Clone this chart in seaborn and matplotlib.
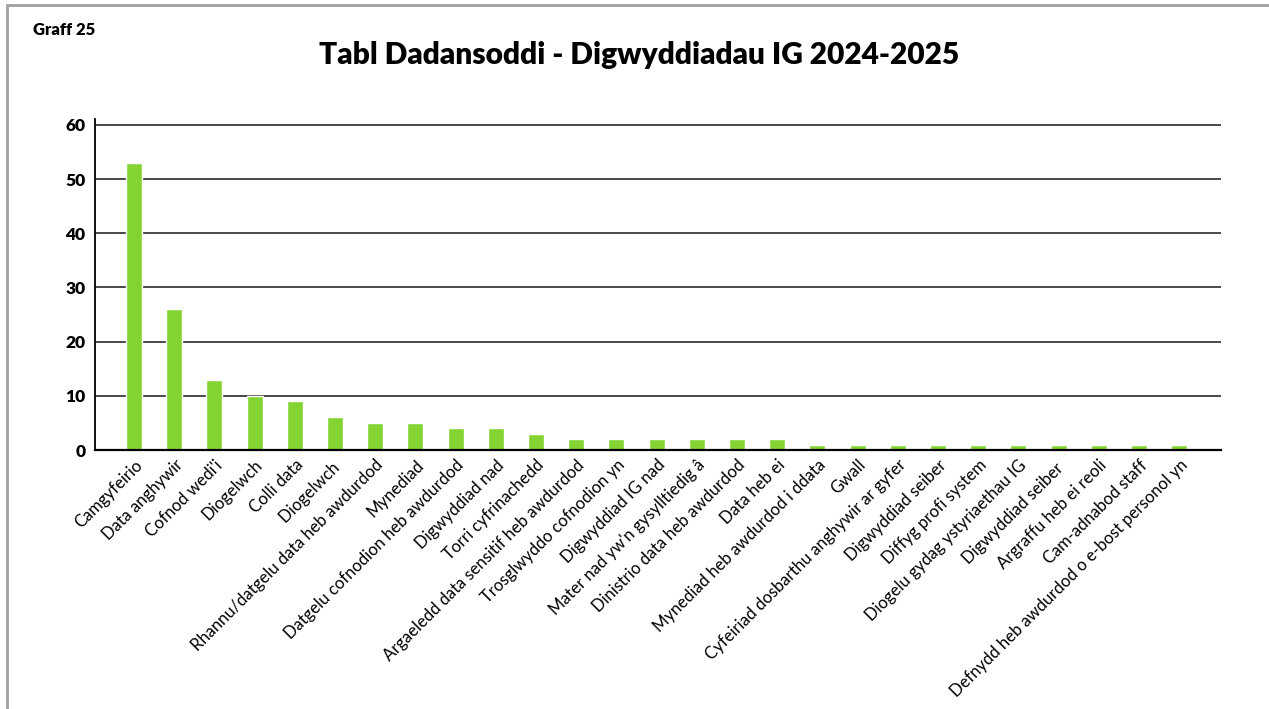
import pandas as pd
import matplotlib.pyplot as plt
import seaborn as sns
from matplotlib.lines import Line2D

# Data
categories = [
    "Camgyfeirio", "Data anghywir", "Cofnod wedi'i", "Diogelwch", "Colli data",
    "Diogelwch ", "Rhannu/datgelu data heb awdurdod", "Mynediad",
    "Datgelu cofnodion heb awdurdod", "Digwyddiad nad", "Torri cyfrinachedd",
    "Argaeledd data sensitif heb awdurdod", "Trosglwyddo cofnodion yn",
    "Digwyddiad IG nad", "Mater nad yw'n gysylltiedig â",
    "Dinistrio data heb awdurdod", "Data heb ei", "Mynediad heb awdurdod i ddata",
    "Gwall", "Cyfeiriad dosbarthu anghywir ar gyfer", "Digwyddiad seiber",
    "Diffyg profi system", "Diogelu gydag ystyriaethau IG", "Digwyddiad seiber ",
    "Argraffu heb ei reoli", "Cam-adnabod staff",
    "Defnydd heb awdurdod o e-bost personol yn",
]
counts = [53, 26, 13, 10, 9, 6, 5, 5, 4, 4, 3, 2, 2, 2, 2, 2, 2,
          1, 1, 1, 1, 1, 1, 1, 1, 1, 1]
y_ticks = [0, 10, 20, 30, 40, 50, 60]

df = pd.DataFrame({'category': categories, 'count': counts})

sns.set_style('white')
plt.rcParams['font.family'] = ['Lato', 'DejaVu Sans']
plt.rcParams['text.color'] = 'black'
plt.rcParams['xtick.color'] = 'black'
plt.rcParams['ytick.color'] = 'black'

fig = plt.figure(figsize=(12.69, 7.09), dpi=100)
ax = fig.add_axes([0.0749, 0.3653, 0.8873, 0.4669])

sns.barplot(data=df, x='category', y='count', color='#83D433',
            saturation=1, width=0.4, ax=ax, zorder=3)

# gridlines
for t in y_ticks[1:]:
    ax.axhline(t, color='#3a3a3a', linewidth=1.3, zorder=1)

ax.set_ylim(0, 61.1)
ax.set_xlim(-0.97, 27.04)
ax.set_yticks(y_ticks)
ax.set_yticklabels([str(t) for t in y_ticks], fontsize=12.5, fontweight='heavy')
ax.set_xticks(range(len(categories)))
ax.set_xticklabels(categories, rotation=45, ha='right', rotation_mode='anchor',
                   fontsize=12)
ax.tick_params(axis='both', length=0, pad=7)
ax.tick_params(axis='x', pad=5)
ax.set_xlabel('')
ax.set_ylabel('')

for side in ['top', 'right']:
    ax.spines[side].set_visible(False)
ax.spines['left'].set_color('black')
ax.spines['left'].set_linewidth(1.3)
ax.spines['bottom'].set_color('black')
ax.spines['bottom'].set_linewidth(1.6)
ax.spines['left'].set_zorder(4)
ax.spines['bottom'].set_zorder(4)

fig.text(0.504, 0.922, 'Tabl Dadansoddi - Digwyddiadau IG 2024-2025',
         ha='center', va='center', fontsize=21.5, fontweight='heavy')
fig.text(0.026, 0.957, 'Graff 25', ha='left', va='center',
         fontsize=12, fontweight='heavy')

# frame lines on the left and top edge
fig.add_artist(Line2D([0.0055, 0.0055], [0, 0.993], transform=fig.transFigure,
                      color='#a0a0a0', linewidth=2))
fig.add_artist(Line2D([0.0055, 1], [0.993, 0.993], transform=fig.transFigure,
                      color='#a0a0a0', linewidth=2))

fig.savefig('out.png', dpi=100)
